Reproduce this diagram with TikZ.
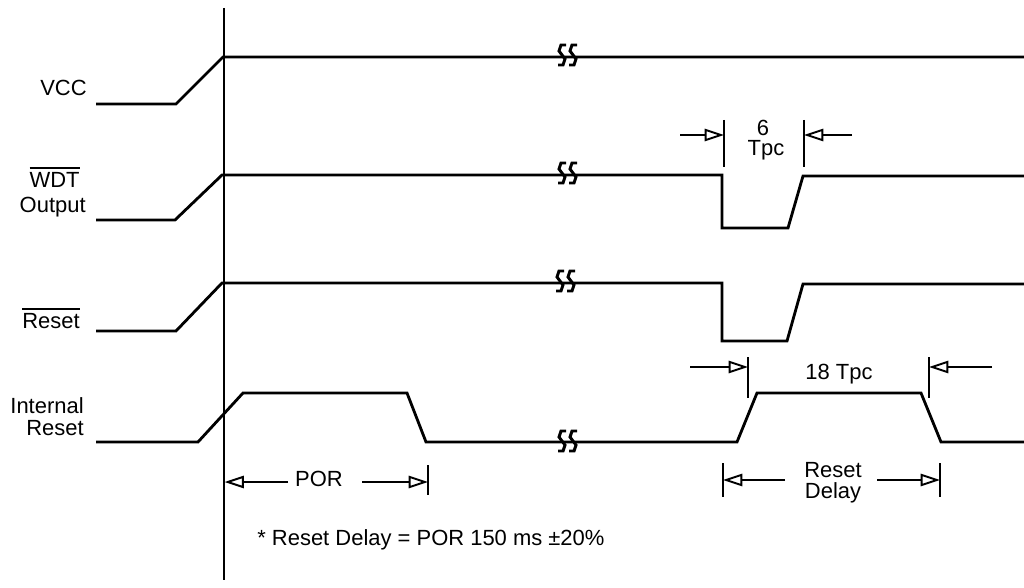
\documentclass[tikz,border=0pt]{standalone}
\usepackage{fontspec}
\setmainfont{Liberation Sans}
\usetikzlibrary{arrows.meta}
\newcommand{\lblfont}{\fontsize{12.5}{14}\selectfont}
\newcommand{\ovl}[1]{\vbox{\hrule height 1pt\kern1.6pt\hbox{#1}}}
\tikzset{sig/.style={line width=1.6pt,line join=miter},
  axis/.style={line width=1.2pt},
  tick/.style={line width=1.1pt},
  dim/.style={line width=1.2pt,-{Triangle[open,length=11pt,width=7pt,line width=1.1pt]}},
  lbl/.style={anchor=base east,inner sep=0pt,font=\lblfont},
  txt/.style={anchor=base,inner sep=0pt,font=\lblfont}}
\newcommand{\brk}[2]{%
\begin{scope}[shift={(#1,#2)}]
\draw[sig,line width=1.7pt] (4,-12)--(-1,-12)--(-3,-6)--(3,2)--(1,8)--(-4,8);
\draw[sig,line width=1.7pt] (15,-12)--(10,-12)--(8,-6)--(14,2)--(12,8)--(7,8);
\end{scope}}

\begin{document}
\begin{tikzpicture}[x=0.02cm,y=-0.02cm]
\useasboundingbox (0,0) rectangle (1024,588);
\draw[axis] (224,8) -- (224,580);
\draw[sig] (96,104) -- (176,104) -- (223,57) -- (1024,57);
\draw[sig] (96,220) -- (175,220) -- (222,175) -- (722,175) -- (722,228)
  -- (788,228) -- (803,176) -- (1024,176);
\draw[sig] (96,331) -- (176,331) -- (222,283) -- (722,283) -- (722,341)
  -- (787,341) -- (803,284) -- (1024,284);
\draw[sig] (96,442) -- (198,442) -- (243,393) -- (407,393) -- (426,442)
  -- (737,442) -- (757,393) -- (921,393) -- (941,442) -- (1024,442);
\brk{562}{57}\brk{562}{175}\brk{560}{283}\brk{562}{443}
\node[lbl] (vcc) at (87,95) {VCC};
\node[lbl] (wdt) at (80,187) {\ovl{WDT}};
\node[lbl] (wdtout) at (86,212) {Output};
\node[lbl] (rst) at (80,328) {\ovl{Reset}};
\node[lbl] (intl) at (84,413) {Internal};
\node[lbl] (intrst) at (84,435) {Reset};
\draw[tick] (724,120) -- (724,167) (804,120) -- (804,167);
\coordinate (wl) at (724,135); \coordinate (wr) at (804,135);
\coordinate (wla) at (680,135); \coordinate (wra) at (852,135);
\draw[dim] (wla) -- (wl);
\draw[dim] (wra) -- (wr);
\node[txt] (six) at (763,135) {6};
\node[txt] (tpc) at (766,155) {Tpc};
\draw[tick] (748,357) -- (748,398) (929,357) -- (929,398);
\coordinate (tl) at (748,367); \coordinate (tr) at (929,367);
\coordinate (tla) at (690,367); \coordinate (tra) at (992,367);
\draw[dim] (tla) -- (tl);
\draw[dim] (tra) -- (tr);
\node[txt] (eighteen) at (839,379) {18 Tpc};
\draw[tick] (723,463) -- (723,497) (940,463) -- (940,497);
\coordinate (dl) at (723,480); \coordinate (dr) at (940,480);
\coordinate (dla) at (785,480); \coordinate (dra) at (877,480);
\draw[dim] (dla) -- (dl);
\draw[dim] (dra) -- (dr);
\node[txt] (rd1) at (833,477) {Reset};
\node[txt] (rd2) at (833,498) {Delay};
\draw[tick] (428,465) -- (428,495);
\coordinate (pl) at (224.6,482); \coordinate (pr) at (428,482);
\coordinate (pla) at (288,482); \coordinate (pra) at (362,482);
\draw[dim] (pla) -- (pl);
\draw[dim] (pra) -- (pr);
\node[txt] (por) at (319,486) {POR};
\node[txt,anchor=base west] (note) at (257,545) {* Reset Delay = POR 150 ms ±20\%};
\end{tikzpicture}
\end{document}
